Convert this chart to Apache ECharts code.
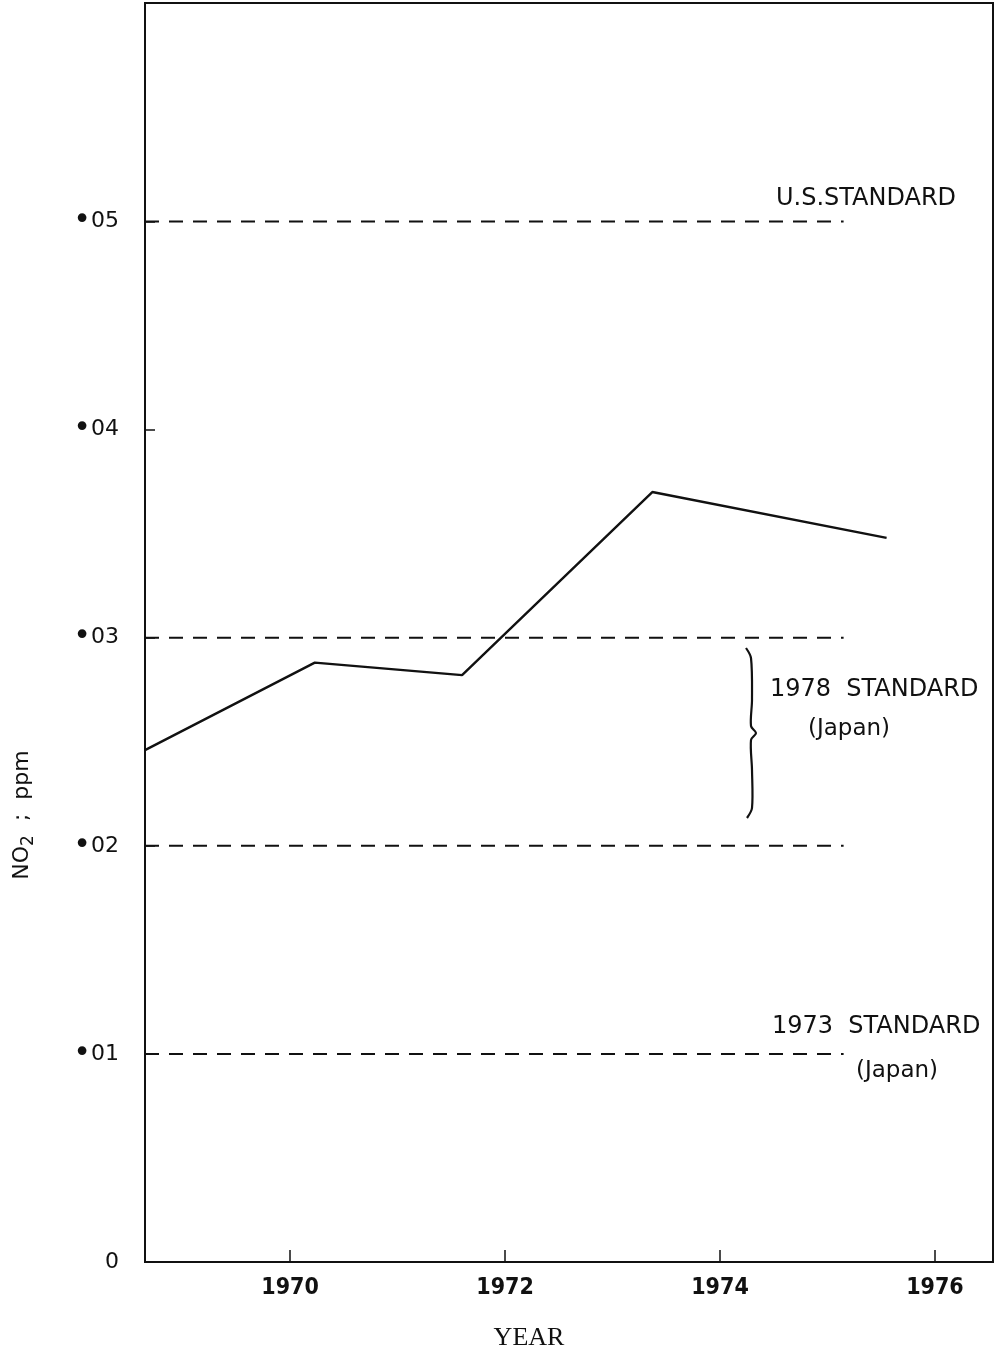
<!DOCTYPE html>
<html>
<head>
<meta charset="utf-8">
<script src="https://cdn.jsdelivr.net/npm/echarts@6/dist/echarts.min.js"></script>
<style>
html, body { margin: 0; padding: 0; background: #ffffff; }
#no2Chart { width: 997px; height: 1354px; }
</style>
</head>
<body>
<div id="no2Chart"></div>
<script>
// measured NO2 (ppm) by year
const years = [1968.65, 1970.23, 1971.6, 1973.37, 1975.55]
const no2 = [0.0246, 0.0288, 0.0282, 0.037, 0.0348]

// standards drawn as dashed lines
const stdStart = 1968.65
const stdEnd = 1975.15
const usStandard = 0.05
const japan1978 = [0.03, 0.02]
const japan1973 = 0.01

const yearTicks = [1970, 1972, 1974, 1976]
const ppmTicks = [0, 0.01, 0.02, 0.03, 0.04, 0.05]

function dashed(v) {
	return {
		type: "line",
		symbol: "none",
		silent: true,
		lineStyle: { color: "#111", width: 2, type: [14, 10] },
		data: [[stdStart, v], [stdEnd, v]],
	}
}

let myCharts = echarts.init(document.getElementById("no2Chart"))
let font = "DejaVu Sans"

let option = {
	backgroundColor: "#ffffff",
	animation: false,
	grid: {
		left: 145,
		top: 3,
		right: 4,
		bottom: 92,
		show: true,
		borderColor: "#111",
		borderWidth: 2,
	},
	xAxis: {
		type: "value",
		min: 1968.65,
		max: 1976.54,
		splitLine: { show: false },
		axisLine: { lineStyle: { color: "#111", width: 2 } },
		axisTick: {
			inside: true,
			length: 12,
			customValues: yearTicks,
			lineStyle: { color: "#111", width: 1.5 },
		},
		axisLabel: {
			customValues: yearTicks,
			margin: 15,
			color: "#111",
			fontFamily: "DejaVu Sans Condensed",
			fontWeight: "bold",
			fontSize: 23,
			formatter: (v) => String(v),
		},
	},
	yAxis: {
		type: "value",
		min: 0,
		max: 0.0605,
		splitLine: { show: false },
		axisLine: { lineStyle: { color: "#111", width: 2 } },
		axisTick: {
			inside: true,
			length: 10,
			customValues: ppmTicks,
			lineStyle: { color: "#111", width: 1.5 },
		},
		axisLabel: {
			customValues: ppmTicks,
			margin: 26,
			color: "#111",
			fontFamily: font,
			fontSize: 22,
			formatter: (v) => {
				if (v === 0) return "{n|0}"
				return "{d|•}{n|" + v.toFixed(2).slice(2) + "}"
			},
			rich: {
				n: { fontSize: 22, color: "#111", fontFamily: font },
				d: { fontSize: 30, color: "#111", fontFamily: font },
			},
		},
	},
	series: [
		{
			type: "line",
			symbol: "none",
			lineStyle: { color: "#111", width: 2.4 },
			data: years.map((y, i) => [y, no2[i]]),
		},
		dashed(usStandard),
		dashed(japan1978[0]),
		dashed(japan1978[1]),
		dashed(japan1973),
	],
	graphic: [
		{ type: "text", left: 776, top: 187, style: { text: "U.S.STANDARD", font: "24px DejaVu Sans", fill: "#111" } },
		{ type: "text", left: 770, top: 678, style: { text: "1978  STANDARD", font: "24px DejaVu Sans", fill: "#111" } },
		{ type: "text", left: 808, top: 718, style: { text: "(Japan)", font: "23px DejaVu Sans", fill: "#111" } },
		{ type: "text", left: 772, top: 1015, style: { text: "1973  STANDARD", font: "24px DejaVu Sans", fill: "#111" } },
		{ type: "text", left: 856, top: 1060, style: { text: "(Japan)", font: "23px DejaVu Sans", fill: "#111" } },
		{
			type: "polyline",
			shape: {
				points: [[746, 648], [751, 658], [752, 700], [751, 726], [756, 733], [751, 740], [752, 770], [752, 808], [747, 818]],
				smooth: 0.3,
			},
			style: { stroke: "#111", lineWidth: 2.2, fill: null },
		},
		{
			type: "text",
			x: 22,
			y: 815,
			rotation: Math.PI / 2,
			style: {
				text: "NO{s|2}  ;  ppm",
				font: "22px DejaVu Sans",
				fill: "#111",
				align: "center",
				verticalAlign: "middle",
				rich: { s: { font: "17px DejaVu Sans", fill: "#111", padding: [14, 0, 0, 0] } },
			},
		},
		{
			type: "text",
			x: 529,
			y: 1338,
			style: { text: "YEAR", font: "26px Liberation Serif", fill: "#111", align: "center", verticalAlign: "middle" },
		},
	],
}
myCharts.setOption(option)
</script>
</body>
</html>
